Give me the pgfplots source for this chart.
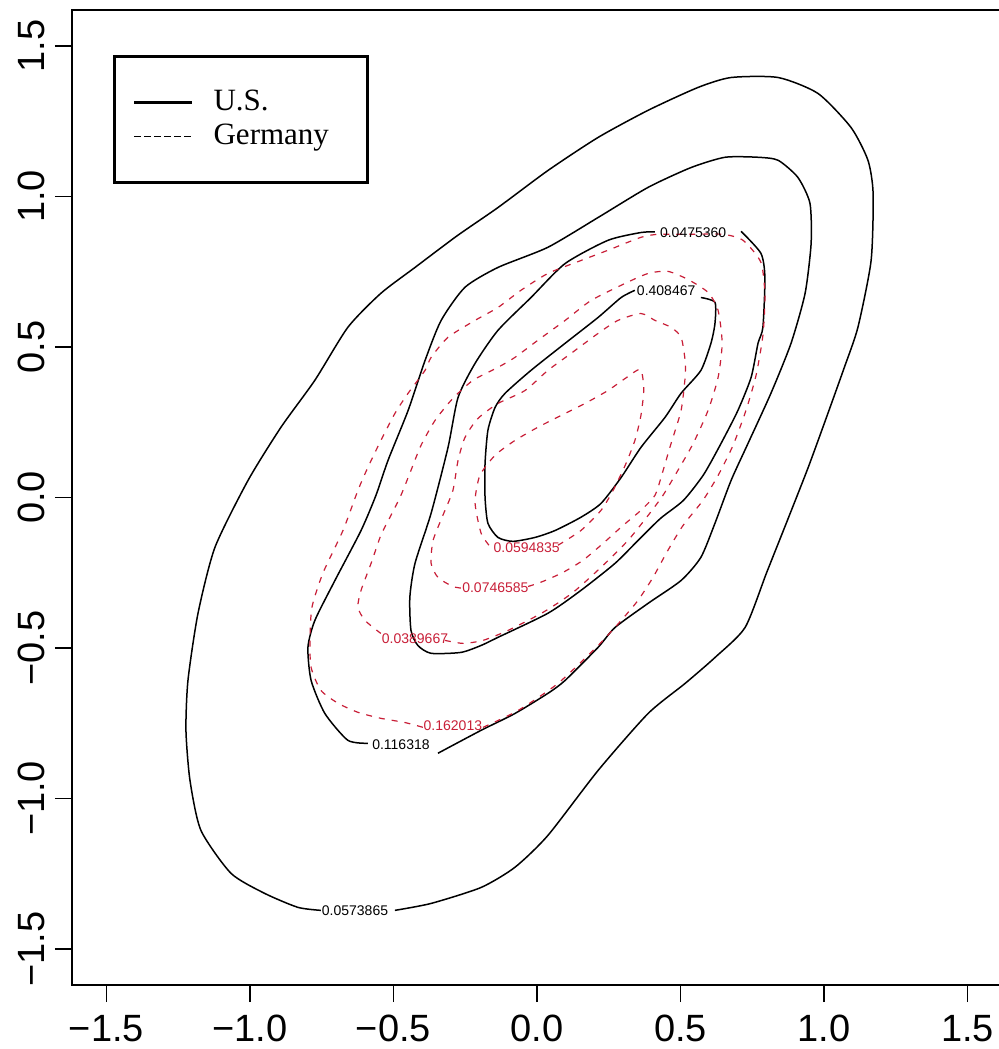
\documentclass[border=0pt]{standalone}
\usepackage{fontspec}
\setmainfont{Liberation Serif}
\newfontfamily\ticksans{Liberation Sans}
\usepackage{pgfplots}
\pgfplotsset{compat=1.18}
\definecolor{ger}{RGB}{200,30,55}

\begin{document}
\begin{tikzpicture}
\begin{axis}[
  scale only axis, width=465pt, height=487.6pt,
  xmin=-1.62, xmax=1.62, ymin=-1.62, ymax=1.62,
  xtick={-1.5,-1,-0.5,0,0.5,1,1.5},
  ytick={-1.5,-1,-0.5,0,0.5,1,1.5},
  xticklabels={−1.5,−1.0,−0.5,0.0,0.5,1.0,1.5},
  yticklabels={−1.5,−1.0,−0.5,0.0,0.5,1.0,1.5},
  tick pos=left, tick align=outside,
  major tick length=8.5pt,
  every tick/.style={black, line width=0.8pt},
  axis line style={line width=1pt},
  tick label style={font=\ticksans\fontsize{19}{19}\selectfont},
  yticklabel style={rotate=90, anchor=south},
  xticklabel style={anchor=north},
  xticklabel shift=3pt, yticklabel shift=1.5pt,
  legend style={at={(axis description cs:0.0441,0.9538)}, anchor=north west,
    draw=black, line width=1.4pt, inner xsep=9pt, inner ysep=16pt,
    row sep=3pt, column sep=10pt,
    nodes={inner sep=0pt, text height=11pt, text depth=3pt},
    font=\fontsize{15.5}{15.5}\selectfont},
  legend cell align=left,
  legend image code/.code={\draw[#1] (0pt,0pt) -- (29pt,0pt);},
]
\addlegendimage{draw=black, line width=1.6pt}
\addlegendentry{\makebox[68pt][l]{U.S.}}
\addlegendimage{draw=black, line width=0.5pt, dash pattern=on 3.5pt off 1.5pt}
\addlegendentry{\makebox[68pt][l]{Germany}}

% U.S. (solid black)
\addplot[black, line width=0.75pt, smooth, tension=0.4, forget plot] coordinates {
(-0.495,-1.372) (-0.369,-1.349) (-0.195,-1.296) (-0.077,-1.229) (0.038,-1.123)
(0.213,-0.907) (0.387,-0.718) (0.516,-0.618) (0.620,-0.532) (0.725,-0.432)
(0.800,-0.250) (0.875,-0.070) (0.945,0.100) (1.010,0.270) (1.070,0.430)
(1.118,0.565) (1.164,0.787) (1.171,1.010) (1.153,1.120)
(1.094,1.229) (0.979,1.342) (0.840,1.395) (0.676,1.395) (0.561,1.362)
(0.387,1.286) (0.213,1.196) (0.038,1.086) (-0.136,0.963) (-0.280,0.868)
(-0.425,0.764) (-0.544,0.678) (-0.659,0.565) (-0.774,0.389) (-0.892,0.233)
(-1.007,0.056) (-1.122,-0.166) (-1.181,-0.385) (-1.216,-0.608) (-1.223,-0.774)
(-1.209,-0.940) (-1.171,-1.106) (-1.066,-1.249) (-0.948,-1.316) (-0.833,-1.362)
(-0.753,-1.372)
};
\addplot[black, line width=0.75pt, smooth, tension=0.4, forget plot] coordinates {
(-0.345,-0.850) (-0.195,-0.774) (-0.077,-0.718) (0.038,-0.651) (0.098,-0.608)
(0.213,-0.498) (0.272,-0.432) (0.387,-0.352) (0.502,-0.276) (0.571,-0.199)
(0.620,-0.086) (0.676,0.056) (0.735,0.179) (0.815,0.346) (0.885,0.512)
(0.934,0.678) (0.955,0.844) (0.951,0.977) (0.909,1.063) (0.840,1.120)
(0.770,1.130) (0.655,1.130) (0.537,1.096) (0.387,1.030) (0.213,0.930)
(0.038,0.831) (-0.136,0.764) (-0.251,0.698) (-0.334,0.588) (-0.390,0.455)
(-0.449,0.289) (-0.519,0.123) (-0.561,0.007) (-0.613,-0.110) (-0.704,-0.276)
(-0.774,-0.409) (-0.798,-0.498) (-0.787,-0.608) (-0.739,-0.718) (-0.659,-0.807)
(-0.589,-0.817)
};
\addplot[black, line width=0.75pt, smooth, tension=0.4, forget plot] coordinates {
(0.711,0.884) (0.780,0.811) (0.794,0.731) (0.787,0.565) (0.770,0.512)
(0.746,0.399) (0.700,0.289) (0.641,0.179) (0.580,0.075) (0.510,-0.010)
(0.430,-0.070) (0.352,-0.143) (0.272,-0.219) (0.153,-0.309) (0.038,-0.385)
(-0.136,-0.465) (-0.195,-0.492) (-0.265,-0.515) (-0.369,-0.518) (-0.415,-0.492)
(-0.439,-0.442) (-0.443,-0.332) (-0.425,-0.219) (-0.369,-0.053) (-0.310,0.166)
(-0.275,0.332) (-0.216,0.445) (-0.136,0.555) (-0.021,0.664) (0.098,0.777)
(0.247,0.854) (0.362,0.880) (0.411,0.882)
};
\addplot[black, line width=0.75pt, smooth, tension=0.4, forget plot] coordinates {
(0.571,0.664) (0.620,0.648) (0.620,0.578) (0.606,0.512) (0.571,0.422)
(0.502,0.346) (0.446,0.266) (0.362,0.166) (0.293,0.066) (0.223,-0.020)
(0.153,-0.066) (0.063,-0.110) (-0.007,-0.133) (-0.084,-0.146) (-0.136,-0.133)
(-0.171,-0.086) (-0.181,0.000) (-0.181,0.113) (-0.171,0.223) (-0.146,0.299)
(-0.111,0.346) (-0.021,0.422) (0.098,0.512) (0.213,0.598) (0.293,0.664)
(0.341,0.688)
};

% Germany (dashed red)
\addplot[ger, line width=0.6pt, dash pattern=on 3pt off 3.5pt, smooth, tension=0.4, forget plot] coordinates {
(-0.188,-0.764) (-0.066,-0.708) (0.073,-0.618) (0.213,-0.492) (0.293,-0.409)
(0.352,-0.342) (0.404,-0.266) (0.456,-0.176) (0.509,-0.093) (0.578,-0.010)
(0.631,0.073) (0.683,0.173) (0.728,0.289) (0.763,0.405) (0.787,0.538)
(0.794,0.671) (0.780,0.781) (0.718,0.854) (0.648,0.874) (0.526,0.874)
(0.422,0.874) (0.362,0.864) (0.247,0.821) (0.153,0.787) (0.038,0.744)
(-0.056,0.688) (-0.136,0.631) (-0.216,0.588) (-0.310,0.532) (-0.369,0.465)
(-0.390,0.422) (-0.449,0.346) (-0.495,0.279) (-0.544,0.189) (-0.589,0.100)
(-0.624,0.023) (-0.676,-0.110) (-0.746,-0.252) (-0.784,-0.365) (-0.791,-0.475)
(-0.787,-0.565) (-0.753,-0.641) (-0.693,-0.684) (-0.624,-0.714) (-0.544,-0.734)
(-0.460,-0.748) (-0.397,-0.764)
};
\addplot[ger, line width=0.6pt, dash pattern=on 3pt off 3.5pt, smooth, tension=0.4, forget plot] coordinates {
(-0.321,-0.475) (-0.258,-0.485) (-0.188,-0.475) (-0.101,-0.442) (0.021,-0.382)
(0.125,-0.316) (0.230,-0.226) (0.317,-0.143) (0.387,-0.060) (0.439,0.007)
(0.491,0.090) (0.544,0.179) (0.596,0.289) (0.631,0.399) (0.645,0.512)
(0.631,0.621) (0.596,0.681) (0.526,0.724) (0.456,0.751) (0.387,0.744)
(0.307,0.711) (0.188,0.654) (0.098,0.588) (0.003,0.522) (-0.077,0.465)
(-0.136,0.432) (-0.223,0.389) (-0.293,0.329) (-0.355,0.256) (-0.404,0.173)
(-0.439,0.090) (-0.474,0.007) (-0.509,-0.060) (-0.544,-0.126) (-0.578,-0.219)
(-0.613,-0.309) (-0.624,-0.365) (-0.599,-0.409) (-0.544,-0.452)
};
\addplot[ger, line width=0.6pt, dash pattern=on 3pt off 3.5pt, smooth, tension=0.4, forget plot] coordinates {
(-0.031,-0.296) (0.021,-0.279) (0.091,-0.249) (0.160,-0.209) (0.230,-0.153)
(0.300,-0.093) (0.362,-0.043) (0.411,0.007) (0.432,0.066) (0.467,0.179)
(0.502,0.289) (0.516,0.399) (0.516,0.455) (0.502,0.532) (0.467,0.565)
(0.411,0.588) (0.362,0.611) (0.282,0.588) (0.213,0.545) (0.118,0.478)
(0.038,0.422) (-0.042,0.355) (-0.136,0.312) (-0.206,0.262) (-0.251,0.199)
(-0.275,0.123) (-0.293,0.023) (-0.328,-0.060) (-0.362,-0.143) (-0.369,-0.219)
(-0.345,-0.266) (-0.293,-0.296) (-0.258,-0.302)
};
\addplot[ger, line width=0.6pt, dash pattern=on 3pt off 3.5pt, smooth, tension=0.4, forget plot] coordinates {
(0.073,-0.159) (0.153,-0.110) (0.223,-0.043) (0.265,0.023) (0.307,0.106)
(0.341,0.189) (0.362,0.272) (0.372,0.360) (0.360,0.425) (0.307,0.395)
(0.247,0.355) (0.167,0.312) (0.098,0.279) (0.003,0.233) (-0.077,0.189)
(-0.146,0.140) (-0.199,0.073) (-0.216,-0.010) (-0.206,-0.076) (-0.192,-0.126)
(-0.164,-0.163)
};

% contour labels
\tikzset{clab/.style={font=\ticksans\fontsize{7}{7}\selectfont, inner sep=0pt}}
\node[clab] at (axis cs:-0.634,-1.372) {0.0573865};
\node[clab] at (axis cs:-0.474,-0.822) {0.116318};
\node[clab] at (axis cs:0.544,0.880) {0.0475360};
\node[clab] at (axis cs:0.450,0.688) {0.408467};
\node[clab, text=ger] at (axis cs:-0.293,-0.760) {0.162013};
\node[clab, text=ger] at (axis cs:-0.425,-0.468) {0.0389667};
\node[clab, text=ger] at (axis cs:-0.145,-0.300) {0.0746585};
\node[clab, text=ger] at (axis cs:-0.036,-0.166) {0.0594835};

\coordinate (sw) at (rel axis cs:0,0);
\end{axis}
\pgfresetboundingbox
\useasboundingbox (sw) ++(-36pt,-32pt) rectangle ++(499.5pt,524.5pt);
\end{tikzpicture}
\end{document}
